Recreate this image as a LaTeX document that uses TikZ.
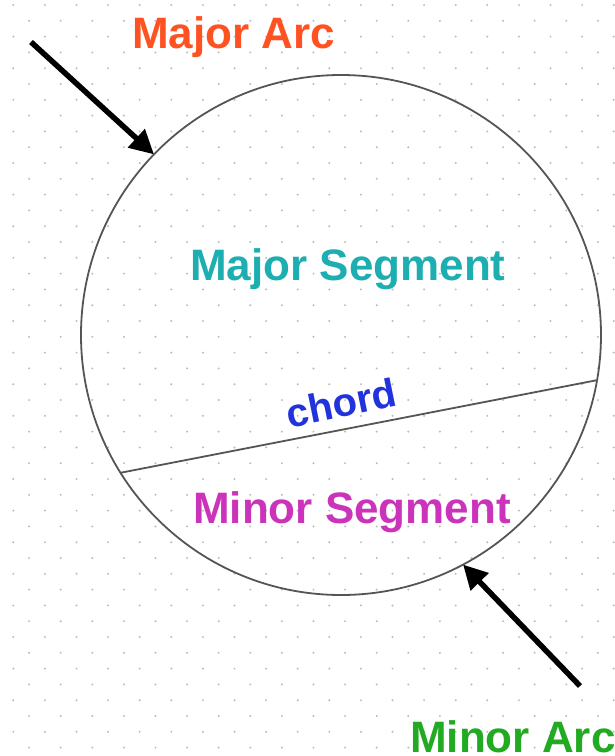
\documentclass[tikz,border=0pt]{standalone}
\usepackage{fontspec}
\setmainfont{Liberation Sans}
\usetikzlibrary{arrows.meta}
\definecolor{majarc}{HTML}{FF5222}
\definecolor{majseg}{HTML}{1CAEB0}
\definecolor{chordc}{HTML}{2233DD}
\definecolor{minseg}{HTML}{CC33BB}
\definecolor{minarc}{HTML}{22AA22}
\definecolor{dotc}{HTML}{BBBBBB}
\definecolor{linec}{HTML}{555555}
\tikzset{
  lbl/.style={inner sep=0pt, font=\fontsize{44}{44}\selectfont\bfseries},
  bigarrow/.style={line width=5.5pt, black, -{Triangle[length=24pt,width=24pt]}},
  thinline/.style={draw=linec, line width=1.8pt}
}
\begin{document}
\begin{tikzpicture}[x=1pt,y=-1pt]
\useasboundingbox (0,0) rectangle (614,756);
\fill[white] (0,0) rectangle (614,756);
% dotted grid
\foreach \j in {0,...,48}{
  \pgfmathsetmacro{\yy}{5+15.8*\j}
  \pgfmathsetmacro{\off}{mod(\j,2)*15.8}
  \foreach \i in {0,...,19}{
    \fill[dotc] ({13.3+\off+31.6*\i},\yy) circle (1.1pt);
  }
}
% circle
\node[circle, thinline, minimum size=520pt, inner sep=0pt, outer sep=0pt] (c) at (341,335) {};
% chord
\draw[thinline] (c.212.6) -- (c.350.5);
% arrows
\coordinate (t1) at (31,42);
\coordinate (t2) at (580,686);
\draw[bigarrow] (t1) -- (c.136.2);
\draw[bigarrow] (t2) -- (c.298.2);
% labels
\node[lbl, text=majarc, anchor=base west] (lmajarc) at (132,48) {Major Arc};
\node[lbl, text=majseg, anchor=base west] (lmajseg) at (190,280) {Major Segment};
\node[lbl, text=minseg, anchor=base west] (lminseg) at (193,523) {Minor Segment};
\node[lbl, text=minarc, anchor=base west] (lminarc) at (410,752) {Minor Arc};
\node[lbl, text=chordc, rotate=11.5, font=\fontsize{40}{40}\selectfont\bfseries] (lchord) at (341,403) {chord};
\end{tikzpicture}
\end{document}
